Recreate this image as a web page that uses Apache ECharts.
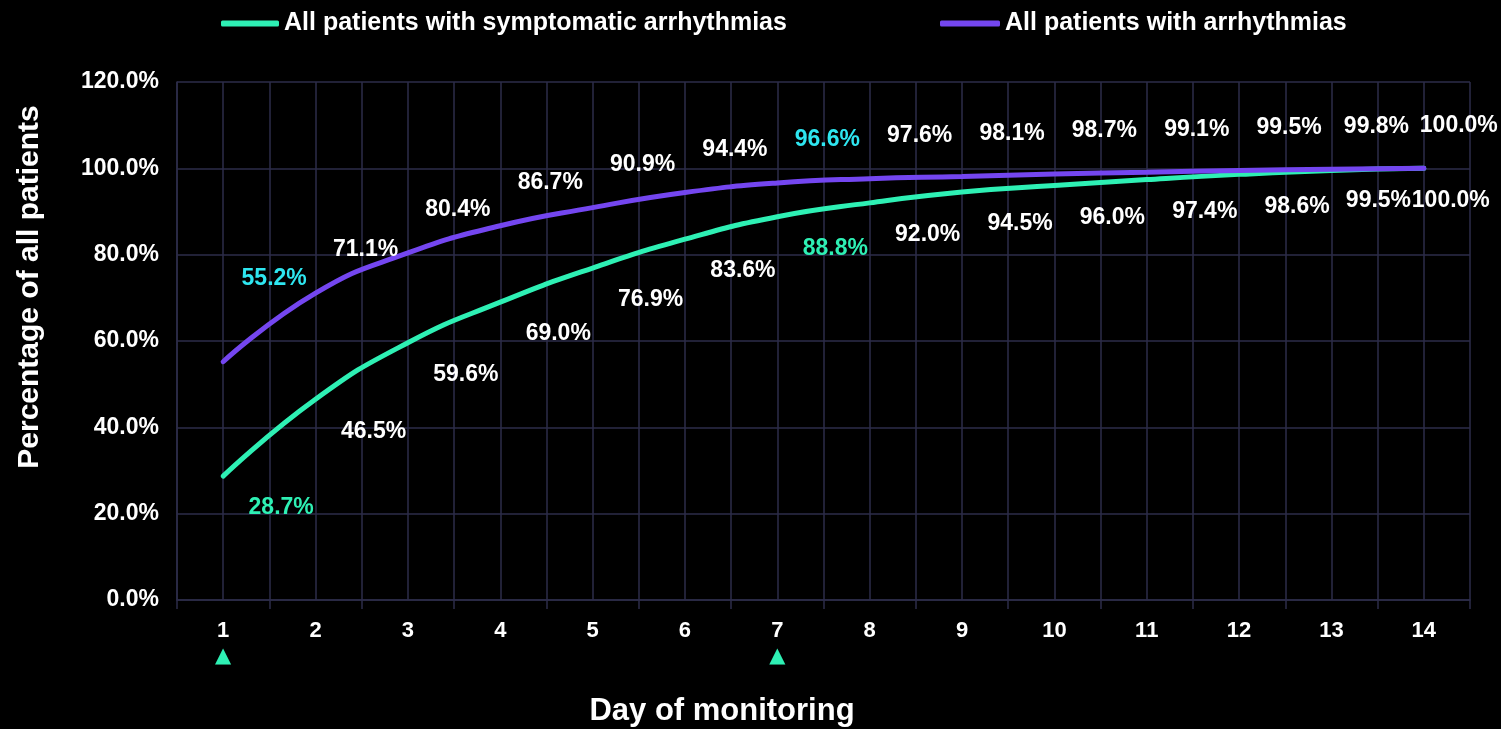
<!DOCTYPE html>
<html>
<head>
<meta charset="utf-8">
<title>Cumulative arrhythmia detection by day of monitoring</title>
<script src="https://cdn.jsdelivr.net/npm/echarts@6/dist/echarts.min.js"></script>
<style>
  html, body { margin: 0; padding: 0; background: #000; }
  #chart { width: 1501px; height: 729px; }
</style>
</head>
<body>
<div id="chart"></div>
<script>
// Day of monitoring (categories)
const days = [1, 2, 3, 4, 5, 6, 7, 8, 9, 10, 11, 12, 13, 14];
// Days flagged with a marker under the axis
const markedDays = [1, 7];
// Cumulative percentage of patients detected
const symptomatic = [28.7, 46.5, 59.6, 69.0, 76.9, 83.6, 88.8, 92.0, 94.5, 96.0, 97.4, 98.6, 99.5, 100.0];
const allArrhythmias = [55.2, 71.1, 80.4, 86.7, 90.9, 94.4, 96.6, 97.6, 98.1, 98.7, 99.1, 99.5, 99.8, 100.0];
const seriesNames = ['All patients with symptomatic arrhythmias', 'All patients with arrhythmias'];
// Y axis ticks
const yTicks = [0, 20, 40, 60, 80, 100, 120];

const TEAL = '#2ef0b4';
const PURPLE = '#7446f0';
const CYAN = '#2ee6f0';
const GRID = '#2d2d4a';
const FONT = '"Liberation Sans", Arial, sans-serif';

const chart = echarts.init(document.getElementById('chart'), null, { renderer: 'canvas' });

const pct = v => v.toFixed(1) + '%';

// Label placement relative to each point (pixels)
function symptomaticOffset(i, n) {
  if (i === n - 1) return [27, 32];
  if (i === n - 2) return [47, 30];
  return [58, 32];
}
function allOffset(i, n) {
  if (i === 0) return [51, -83];
  if (i === n - 1) return [35, -43];
  if (i === n - 2) return [45, -43];
  return [50, -43];
}

function buildData(values, offsetFn, highlightColor) {
  return values.map((v, i) => ({
    value: v,
    label: {
      offset: offsetFn(i, values.length),
      color: markedDays.includes(days[i]) ? highlightColor : '#ffffff'
    }
  }));
}

const labelBase = {
  show: true,
  position: 'inside',
  formatter: p => pct(p.value),
  fontFamily: FONT,
  fontWeight: 'bold',
  fontSize: 23,
  align: 'center',
  verticalAlign: 'middle'
};

const legendText = {
  color: '#ffffff',
  fontFamily: FONT,
  fontWeight: 'bold',
  fontSize: 25
};

chart.setOption({
  backgroundColor: '#000000',
  animation: false,
  legend: [
    {
      left: 216, top: 6, itemWidth: 58, itemHeight: 6,
      icon: 'roundRect',
      data: [{ name: seriesNames[0], itemStyle: { color: TEAL } }],
      textStyle: legendText
    },
    {
      left: 935, top: 6, itemWidth: 60, itemHeight: 6,
      icon: 'roundRect',
      data: [{ name: seriesNames[1], itemStyle: { color: PURPLE } }],
      textStyle: legendText
    }
  ],
  grid: { left: 177, right: 31, top: 82, bottom: 129, outerBoundsMode: 'none', containLabel: false },
  xAxis: [
    {
      type: 'category',
      data: days,
      boundaryGap: true,
      name: 'Day of monitoring',
      nameLocation: 'middle',
      nameGap: 96,
      nameTextStyle: {
        color: '#ffffff', fontFamily: FONT, fontWeight: 'bold', fontSize: 31,
        padding: [0, 203, 0, 0]
      },
      axisLine: { show: true, lineStyle: { color: GRID, width: 1.5 } },
      axisTick: { show: true, length: 9, lineStyle: { color: GRID, width: 1.5 } },
      splitLine: { show: false },
      axisLabel: {
        margin: 18,
        interval: 0,
        verticalAlign: 'top',
        formatter: (v) => markedDays.includes(Number(v)) ? '{v|' + v + '}\n{t|▲}' : '{v|' + v + '}',
        rich: {
          v: { color: '#ffffff', fontFamily: FONT, fontWeight: 'bold', fontSize: 22, lineHeight: 26 },
          t: { color: TEAL, fontFamily: '"DejaVu Sans", sans-serif', fontSize: 21, lineHeight: 26 }
        }
      }
    },
    {
      // Half-day grid: lines at every category centre and boundary
      type: 'value',
      min: 0.5,
      max: 14.5,
      interval: 0.5,
      show: true,
      position: 'bottom',
      axisLine: { show: false },
      axisTick: { show: false },
      axisLabel: { show: false },
      splitLine: { show: true, lineStyle: { color: GRID, width: 1.5 } }
    }
  ],
  yAxis: {
    type: 'value',
    min: yTicks[0],
    max: yTicks[yTicks.length - 1],
    interval: yTicks[1] - yTicks[0],
    name: 'Percentage of all patients',
    nameLocation: 'middle',
    nameRotate: 90,
    nameGap: 132,
    nameTextStyle: {
      color: '#ffffff', fontFamily: FONT, fontWeight: 'bold', fontSize: 30,
      padding: [0, 0, 0, 108]
    },
    axisLine: { show: true, lineStyle: { color: GRID, width: 1.5 } },
    axisTick: { show: false },
    splitLine: { show: true, lineStyle: { color: GRID, width: 1.5 } },
    axisLabel: {
      margin: 18,
      color: '#ffffff',
      fontFamily: FONT,
      fontWeight: 'bold',
      fontSize: 23,
      formatter: v => pct(v)
    }
  },
  series: [
    {
      name: seriesNames[0],
      type: 'line',
      xAxisIndex: 0,
      smooth: true,
      symbol: 'circle',
      symbolSize: 1,
      showSymbol: true,
      itemStyle: { color: 'rgba(0,0,0,0)', borderWidth: 0 },
      lineStyle: { color: TEAL, width: 5, cap: 'round' },
      label: labelBase,
      data: buildData(symptomatic, symptomaticOffset, TEAL),
      z: 2
    },
    {
      name: seriesNames[1],
      type: 'line',
      xAxisIndex: 0,
      smooth: true,
      symbol: 'circle',
      symbolSize: 1,
      showSymbol: true,
      itemStyle: { color: 'rgba(0,0,0,0)', borderWidth: 0 },
      lineStyle: { color: PURPLE, width: 5, cap: 'round' },
      label: labelBase,
      data: buildData(allArrhythmias, allOffset, CYAN),
      z: 3
    }
  ]
});
</script>
</body>
</html>
